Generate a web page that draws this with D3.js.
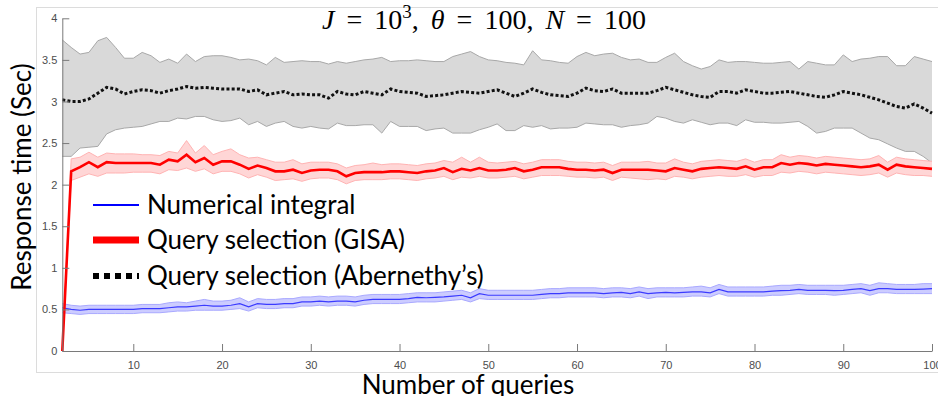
<!DOCTYPE html>
<html>
<head>
<meta charset="utf-8">
<script src="https://cdn.jsdelivr.net/npm/d3@7"></script>
<style>
  html, body { margin: 0; padding: 0; background: #fff; }
  svg { display: block; }
</style>
</head>
<body>
<svg id="chart" width="938" height="396"></svg>
<script>
// Number of queries (x axis)
const queries = d3.range(2, 101);

// Query selection (Abernethy's): mean and band
const abernethyMean = [
  3.02, 3.00, 3.00, 3.03, 3.10, 3.17, 3.15, 3.09, 3.12, 3.14,
  3.13, 3.10, 3.13, 3.15, 3.18, 3.16, 3.17, 3.16, 3.15, 3.15,
  3.15, 3.12, 3.14, 3.08, 3.10, 3.12, 3.08, 3.09, 3.08, 3.08,
  3.04, 3.12, 3.09, 3.08, 3.12, 3.10, 3.08, 3.15, 3.12, 3.11,
  3.10, 3.06, 3.07, 3.08, 3.10, 3.12, 3.11, 3.10, 3.12, 3.14,
  3.10, 3.06, 3.10, 3.15, 3.11, 3.08, 3.07, 3.06, 3.10, 3.16,
  3.13, 3.12, 3.15, 3.10, 3.10, 3.10, 3.10, 3.13, 3.17, 3.14,
  3.11, 3.08, 3.06, 3.05, 3.12, 3.12, 3.10, 3.14, 3.12, 3.10,
  3.10, 3.11, 3.12, 3.10, 3.08, 3.06, 3.05, 3.08, 3.12, 3.10,
  3.08, 3.05, 3.02, 2.98, 2.94, 2.92, 2.97, 2.92, 2.86
];
const abernethyUpper = [
  3.74, 3.65, 3.57, 3.59, 3.73, 3.77, 3.65, 3.52, 3.52, 3.59,
  3.55, 3.47, 3.51, 3.46, 3.57, 3.48, 3.54, 3.55, 3.55, 3.53,
  3.50, 3.51, 3.49, 3.44, 3.53, 3.47, 3.48, 3.49, 3.48, 3.48,
  3.45, 3.48, 3.46, 3.48, 3.50, 3.51, 3.53, 3.48, 3.49, 3.49,
  3.50, 3.49, 3.48, 3.48, 3.54, 3.57, 3.60, 3.54, 3.50, 3.49,
  3.47, 3.46, 3.44, 3.61, 3.50, 3.49, 3.47, 3.46, 3.54, 3.59,
  3.55, 3.57, 3.58, 3.53, 3.50, 3.51, 3.47, 3.47, 3.53, 3.58,
  3.48, 3.43, 3.39, 3.42, 3.50, 3.47, 3.48, 3.48, 3.47, 3.46,
  3.46, 3.47, 3.48, 3.39, 3.48, 3.46, 3.44, 3.44, 3.56, 3.48,
  3.51, 3.52, 3.54, 3.54, 3.43, 3.43, 3.54, 3.51, 3.48
];
const abernethyLower = [
  2.34, 2.34, 2.44, 2.45, 2.46, 2.61, 2.66, 2.68, 2.69, 2.70,
  2.73, 2.76, 2.76, 2.80, 2.79, 2.82, 2.82, 2.78, 2.76, 2.77,
  2.80, 2.72, 2.76, 2.70, 2.74, 2.76, 2.70, 2.68, 2.70, 2.68,
  2.67, 2.74, 2.71, 2.71, 2.72, 2.72, 2.62, 2.76, 2.70, 2.70,
  2.70, 2.65, 2.67, 2.68, 2.62, 2.62, 2.62, 2.66, 2.69, 2.73,
  2.65, 2.65, 2.71, 2.69, 2.71, 2.67, 2.68, 2.68, 2.69, 2.74,
  2.73, 2.72, 2.72, 2.69, 2.71, 2.72, 2.74, 2.82, 2.80, 2.76,
  2.74, 2.78, 2.75, 2.72, 2.74, 2.74, 2.71, 2.78, 2.75, 2.75,
  2.74, 2.74, 2.75, 2.76, 2.70, 2.62, 2.64, 2.68, 2.68, 2.68,
  2.62, 2.56, 2.54, 2.49, 2.44, 2.40, 2.40, 2.34, 2.26
];

// Query selection (GISA): mean and band
const gisaMean = [
  0.00, 2.16, 2.21, 2.27, 2.21, 2.27, 2.26, 2.26, 2.26, 2.26,
  2.26, 2.24, 2.30, 2.28, 2.36, 2.27, 2.32, 2.24, 2.28, 2.28,
  2.24, 2.19, 2.23, 2.20, 2.16, 2.16, 2.18, 2.14, 2.17, 2.18,
  2.18, 2.16, 2.10, 2.14, 2.15, 2.15, 2.15, 2.16, 2.16, 2.15,
  2.14, 2.16, 2.17, 2.20, 2.15, 2.19, 2.17, 2.20, 2.17, 2.17,
  2.18, 2.20, 2.16, 2.18, 2.21, 2.21, 2.21, 2.19, 2.18, 2.18,
  2.17, 2.18, 2.14, 2.18, 2.18, 2.18, 2.18, 2.17, 2.16, 2.20,
  2.18, 2.16, 2.19, 2.20, 2.21, 2.20, 2.19, 2.22, 2.18, 2.21,
  2.21, 2.26, 2.24, 2.26, 2.25, 2.23, 2.25, 2.24, 2.23, 2.22,
  2.21, 2.22, 2.24, 2.18, 2.24, 2.22, 2.21, 2.20, 2.19
];
const gisaUpper = [
  0.00, 2.31, 2.33, 2.39, 2.33, 2.38, 2.37, 2.37, 2.37, 2.36,
  2.36, 2.35, 2.40, 2.38, 2.53, 2.38, 2.47, 2.36, 2.40, 2.43,
  2.36, 2.32, 2.33, 2.30, 2.27, 2.27, 2.30, 2.25, 2.27, 2.27,
  2.27, 2.25, 2.20, 2.23, 2.24, 2.26, 2.24, 2.25, 2.25, 2.24,
  2.23, 2.25, 2.26, 2.29, 2.27, 2.33, 2.27, 2.33, 2.27, 2.26,
  2.27, 2.28, 2.25, 2.27, 2.30, 2.30, 2.30, 2.28, 2.27, 2.27,
  2.26, 2.27, 2.23, 2.27, 2.27, 2.27, 2.28, 2.26, 2.26, 2.31,
  2.27, 2.25, 2.28, 2.29, 2.30, 2.29, 2.28, 2.31, 2.27, 2.30,
  2.30, 2.36, 2.33, 2.35, 2.34, 2.32, 2.34, 2.33, 2.32, 2.31,
  2.30, 2.31, 2.35, 2.27, 2.33, 2.31, 2.30, 2.29, 2.28
];
const gisaLower = [
  0.00, 2.05, 2.09, 2.13, 2.10, 2.14, 2.14, 2.14, 2.15, 2.15,
  2.15, 2.13, 2.18, 2.17, 2.20, 2.16, 2.19, 2.13, 2.16, 2.16,
  2.13, 2.08, 2.12, 2.09, 2.05, 2.06, 2.07, 2.04, 2.07, 2.08,
  2.08, 2.06, 2.01, 2.05, 2.06, 2.06, 2.06, 2.07, 2.07, 2.06,
  2.05, 2.07, 2.08, 2.10, 2.06, 2.09, 2.08, 2.10, 2.08, 2.08,
  2.09, 2.10, 2.07, 2.09, 2.11, 2.11, 2.11, 2.10, 2.09, 2.09,
  2.08, 2.09, 2.05, 2.09, 2.08, 2.07, 2.06, 2.07, 2.06, 2.10,
  2.09, 2.07, 2.09, 2.10, 2.11, 2.10, 2.10, 2.12, 2.09, 2.11,
  2.11, 2.15, 2.14, 2.16, 2.15, 2.13, 2.15, 2.14, 2.13, 2.12,
  2.11, 2.12, 2.14, 2.09, 2.14, 2.12, 2.11, 2.11, 2.10
];

// Numerical integral: mean and band
const integralMean = [
  0.52, 0.50, 0.49, 0.50, 0.50, 0.50, 0.50, 0.50, 0.50, 0.51,
  0.51, 0.51, 0.52, 0.53, 0.53, 0.54, 0.55, 0.54, 0.54, 0.55,
  0.57, 0.53, 0.57, 0.56, 0.56, 0.57, 0.57, 0.59, 0.59, 0.60,
  0.59, 0.60, 0.60, 0.59, 0.61, 0.62, 0.62, 0.62, 0.62, 0.63,
  0.645, 0.64, 0.645, 0.65, 0.66, 0.67, 0.64, 0.69, 0.67, 0.67,
  0.67, 0.67, 0.67, 0.67, 0.68, 0.69, 0.69, 0.70, 0.70, 0.70,
  0.70, 0.69, 0.70, 0.705, 0.69, 0.71, 0.69, 0.70, 0.705, 0.70,
  0.705, 0.71, 0.71, 0.70, 0.74, 0.71, 0.71, 0.71, 0.71, 0.71,
  0.72, 0.725, 0.73, 0.74, 0.73, 0.73, 0.73, 0.725, 0.73, 0.74,
  0.75, 0.725, 0.75, 0.75, 0.74, 0.74, 0.74, 0.745, 0.75
];
const integralUpper = [
  0.57, 0.55, 0.54, 0.55, 0.55, 0.55, 0.55, 0.55, 0.55, 0.56,
  0.56, 0.56, 0.58, 0.59, 0.58, 0.60, 0.62, 0.60, 0.60, 0.61,
  0.64, 0.59, 0.63, 0.62, 0.62, 0.63, 0.63, 0.65, 0.65, 0.66,
  0.65, 0.66, 0.66, 0.65, 0.67, 0.68, 0.68, 0.68, 0.68, 0.69,
  0.70, 0.70, 0.70, 0.71, 0.72, 0.73, 0.70, 0.75, 0.73, 0.73,
  0.73, 0.73, 0.73, 0.73, 0.74, 0.75, 0.75, 0.76, 0.76, 0.76,
  0.76, 0.75, 0.76, 0.76, 0.75, 0.77, 0.75, 0.76, 0.76, 0.76,
  0.76, 0.77, 0.78, 0.76, 0.80, 0.77, 0.77, 0.77, 0.77, 0.77,
  0.78, 0.79, 0.79, 0.80, 0.79, 0.79, 0.79, 0.79, 0.79, 0.80,
  0.81, 0.79, 0.82, 0.81, 0.80, 0.80, 0.80, 0.81, 0.81
];
const integralLower = [
  0.46, 0.45, 0.44, 0.45, 0.45, 0.45, 0.45, 0.45, 0.45, 0.46,
  0.46, 0.46, 0.47, 0.48, 0.48, 0.49, 0.49, 0.49, 0.49, 0.50,
  0.51, 0.48, 0.52, 0.51, 0.51, 0.52, 0.52, 0.54, 0.54, 0.55,
  0.54, 0.55, 0.55, 0.54, 0.56, 0.57, 0.57, 0.57, 0.57, 0.58,
  0.59, 0.59, 0.59, 0.60, 0.61, 0.62, 0.59, 0.63, 0.62, 0.62,
  0.62, 0.62, 0.62, 0.62, 0.63, 0.64, 0.64, 0.65, 0.65, 0.65,
  0.65, 0.64, 0.65, 0.65, 0.64, 0.66, 0.63, 0.65, 0.65, 0.65,
  0.65, 0.66, 0.66, 0.65, 0.69, 0.66, 0.66, 0.66, 0.66, 0.66,
  0.67, 0.67, 0.68, 0.69, 0.68, 0.68, 0.68, 0.67, 0.68, 0.69,
  0.70, 0.67, 0.70, 0.70, 0.69, 0.69, 0.69, 0.69, 0.69
];

const xTicks = [10, 20, 30, 40, 50, 60, 70, 80, 90, 100];
const yTicks = [0, 0.5, 1, 1.5, 2, 2.5, 3, 3.5, 4];
const legendLabels = ["Numerical integral", "Query selection (GISA)", "Query selection (Abernethy\u2019s)"];

const svg = d3.select("#chart");
const W = 938, H = 396;

svg.append("rect").attr("width", W).attr("height", H).attr("fill", "#fff");

// figure frame
svg.append("rect")
  .attr("x", 36.5).attr("y", 7.5).attr("width", 920).attr("height", 365)
  .attr("fill", "none").attr("stroke", "#dcdcdc").attr("stroke-width", 1);

const x = d3.scaleLinear().domain([2, 100]).range([62.3, 932]);
const y = d3.scaleLinear().domain([0, 4]).range([351, 18.3]);

function rows(mean, lo, hi) {
  return queries.map((q, i) => ({ q, m: mean[i], lo: lo[i], hi: hi[i] }));
}
const abernethy = rows(abernethyMean, abernethyLower, abernethyUpper);
const gisa = rows(gisaMean, gisaLower, gisaUpper);
const integral = rows(integralMean, integralLower, integralUpper);

const band = d3.area().x(d => x(d.q)).y0(d => y(d.lo)).y1(d => y(d.hi));
const upperLine = d3.line().x(d => x(d.q)).y(d => y(d.hi));
const lowerLine = d3.line().x(d => x(d.q)).y(d => y(d.lo));
const meanLine = d3.line().x(d => x(d.q)).y(d => y(d.m));

function drawBand(data, fill, edge) {
  svg.append("path").attr("d", band(data)).attr("fill", fill);
  svg.append("path").attr("d", upperLine(data)).attr("fill", "none").attr("stroke", edge).attr("stroke-width", 1);
  svg.append("path").attr("d", lowerLine(data)).attr("fill", "none").attr("stroke", edge).attr("stroke-width", 1);
}

drawBand(abernethy, "#d9d9d9", "#a8a8a8");
drawBand(gisa, "#ffd6d6", "#ffb3b3");
drawBand(integral, "#ccccff", "#a9a9ff");

svg.append("path").attr("d", meanLine(abernethy))
  .attr("fill", "none").attr("stroke", "#111").attr("stroke-width", 3)
  .attr("stroke-dasharray", "3,2.2");
svg.append("path").attr("d", meanLine(integral))
  .attr("fill", "none").attr("stroke", "#3b3bff").attr("stroke-width", 1.2);
svg.append("path").attr("d", meanLine(gisa))
  .attr("fill", "none").attr("stroke", "#ff0000").attr("stroke-width", 2.6);

// axes
const axisColor = "#7a7a7a";
const tickFont = "'Liberation Sans', Arial, sans-serif";

const xAxis = svg.append("g")
  .attr("transform", `translate(0,${y(0)})`)
  .call(d3.axisBottom(x).tickValues(xTicks).tickSizeInner(-7).tickSizeOuter(0).tickPadding(10));
const yAxis = svg.append("g")
  .attr("transform", `translate(${x(2)},0)`)
  .call(d3.axisLeft(y).tickValues(yTicks).tickSizeInner(-7).tickSizeOuter(0).tickPadding(5)
    .tickFormat(d3.format("")));

[xAxis, yAxis].forEach(g => {
  g.select(".domain").attr("stroke", axisColor);
  g.selectAll(".tick line").attr("stroke", axisColor);
  g.selectAll(".tick text").attr("fill", "#4d4d4d")
    .style("font-family", tickFont).style("font-size", "11px");
});

// title
const title = svg.append("text")
  .attr("x", 484).attr("y", 29)
  .attr("text-anchor", "middle")
  .style("font-family", "'Liberation Serif', 'DejaVu Serif', serif")
  .style("font-size", "28px")
  .style("word-spacing", "5px")
  .attr("fill", "#000");
title.append("tspan").style("font-style", "italic").text("J");
title.append("tspan").text(" = 10");
title.append("tspan").attr("dy", -11).style("font-size", "19px").text("3");
title.append("tspan").attr("dy", 11).text(", ");
title.append("tspan").style("font-style", "italic").text("\u03B8");
title.append("tspan").text(" = 100, ");
title.append("tspan").style("font-style", "italic").text("N");
title.append("tspan").text(" = 100");

// axis labels
const labelFont = "Lato, 'Open Sans', sans-serif";
svg.append("text")
  .attr("transform", "translate(31,177) rotate(-90)")
  .attr("text-anchor", "middle")
  .style("font-family", labelFont).style("font-size", "26px")
  .attr("fill", "#000")
  .text("Response time (Sec)");
svg.append("text")
  .attr("x", 468).attr("y", 394)
  .attr("text-anchor", "middle")
  .style("font-family", labelFont).style("font-size", "26px")
  .attr("fill", "#000")
  .text("Number of queries");

// legend
const legendStyles = [
  { stroke: "#0000ff", width: 2, dash: null },
  { stroke: "#ff0000", width: 7, dash: null },
  { stroke: "#000000", width: 6, dash: "6,5" }
];
const legendY = [205, 240, 276];
legendLabels.forEach((label, i) => {
  const s = legendStyles[i];
  const ln = svg.append("line")
    .attr("x1", 93).attr("x2", 139).attr("y1", legendY[i]).attr("y2", legendY[i])
    .attr("stroke", s.stroke).attr("stroke-width", s.width);
  if (s.dash) ln.attr("stroke-dasharray", s.dash);
  svg.append("text")
    .attr("x", 147).attr("y", legendY[i] + 9)
    .style("font-family", labelFont).style("font-size", "26px")
    .attr("fill", "#000")
    .text(label);
});
</script>
</body>
</html>
